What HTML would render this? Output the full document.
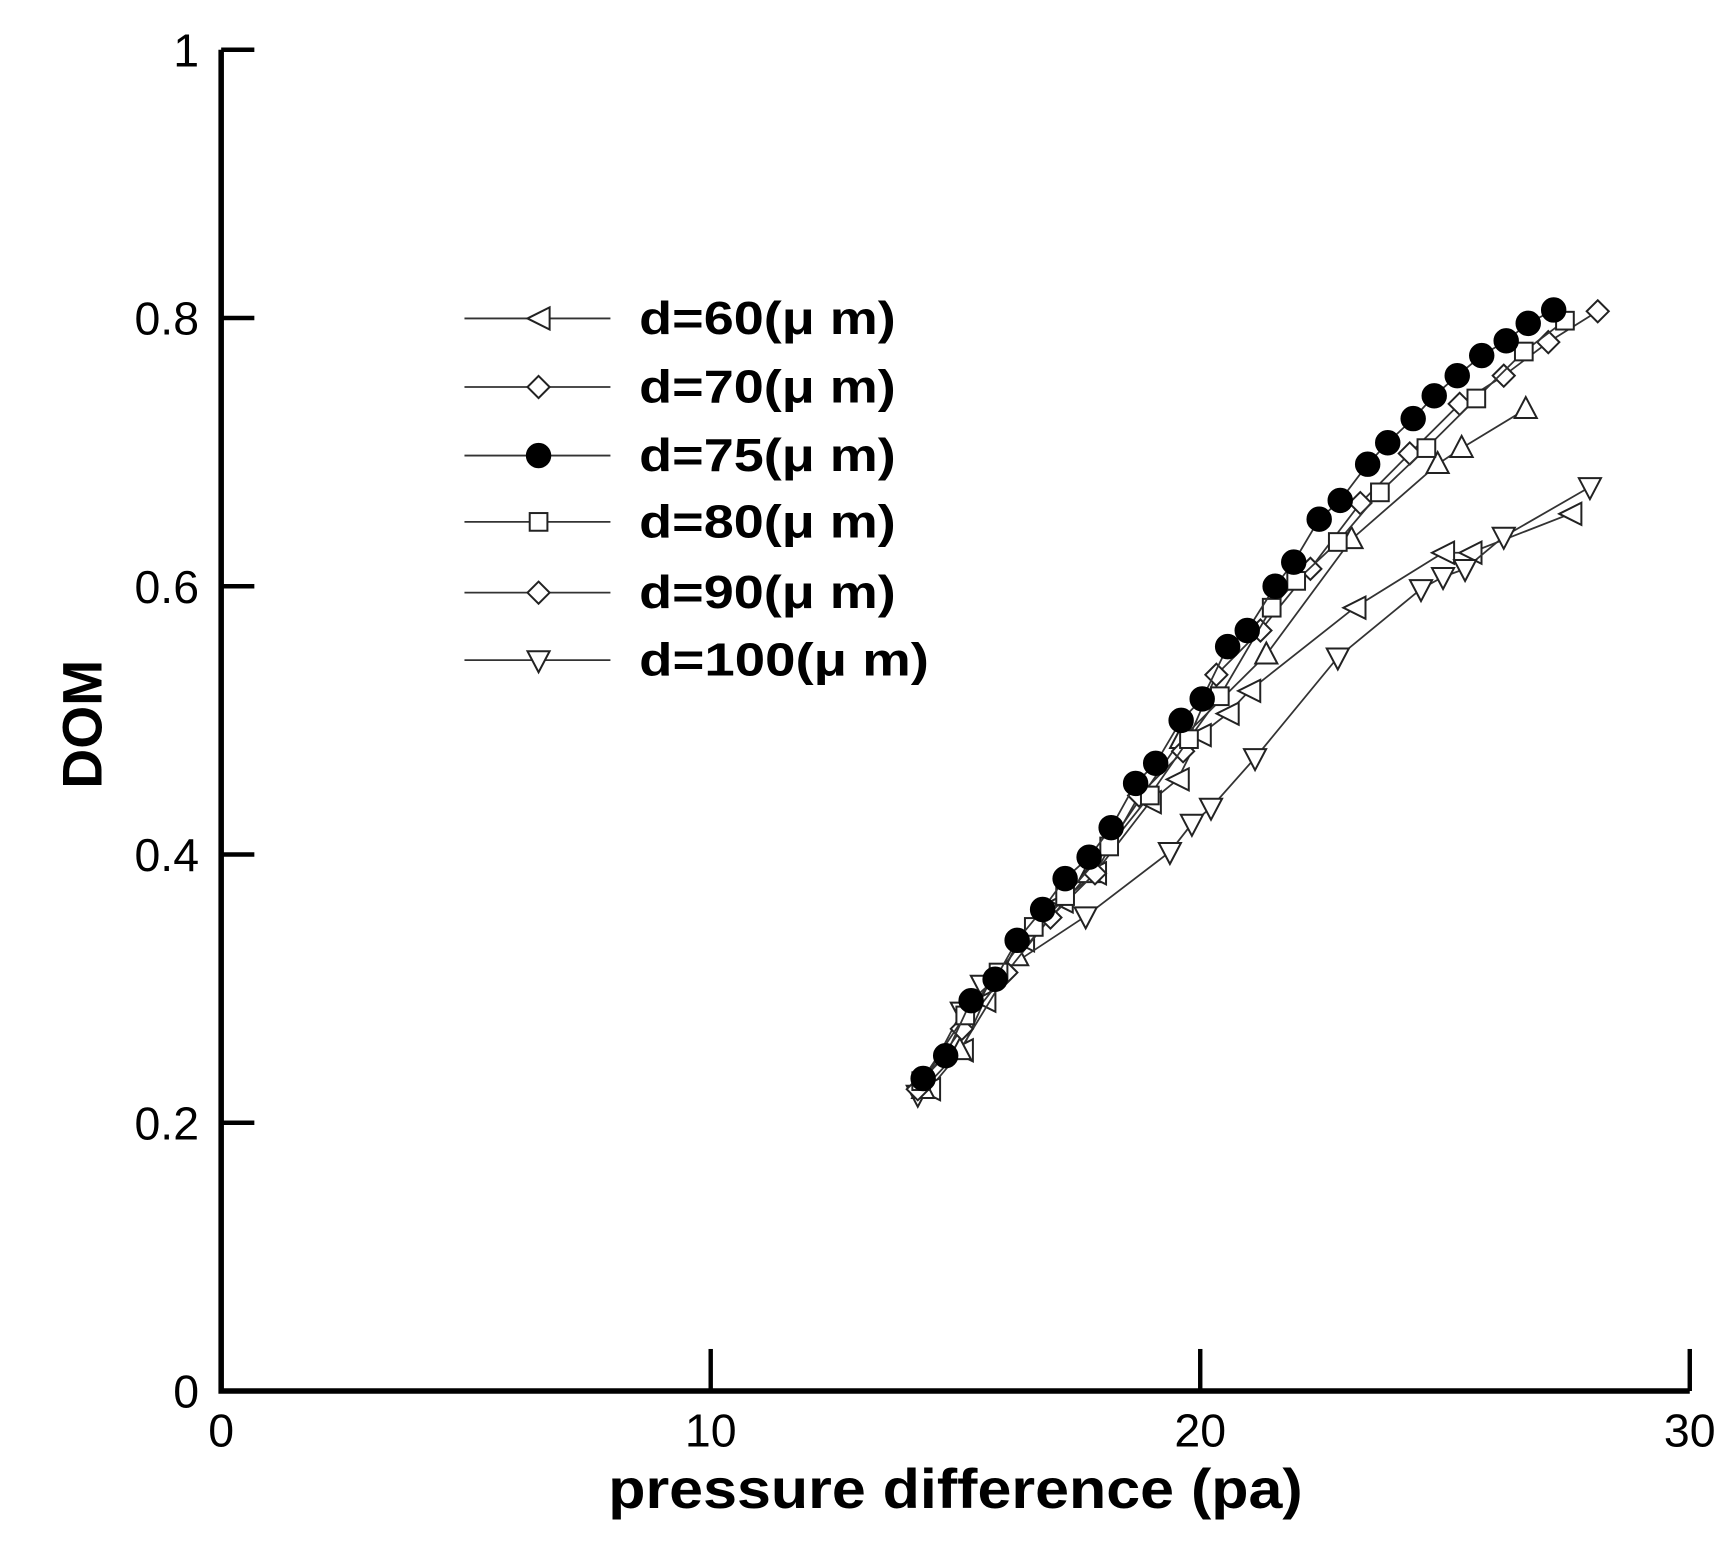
<!DOCTYPE html>
<html><head><meta charset="utf-8"><style>
html,body{margin:0;padding:0;background:#fff;}
svg{display:block;}
text{font-family:"Liberation Sans",sans-serif;fill:#000;}
</style></head><body>
<svg id="chart" width="1734" height="1548" viewBox="0 0 1568 1400" preserveAspectRatio="none" xmlns="http://www.w3.org/2000/svg">
<g id="axes"></g>
<g id="series"></g>
<g id="legend"></g>
</svg>
<script>
const xTicks=[0,10,20,30];
const yTicks=[0,0.2,0.4,0.6,0.8,1];
const yTickLabels=["0","0.2","0.4","0.6","0.8","1"];
const d60x=[14.46,15.13,15.59,16.38,17.17,17.85,18.97,19.54,19.99,20.56,21.0,23.15,24.96,25.52,27.56];
const d60y=[0.225,0.254,0.291,0.336,0.365,0.386,0.439,0.456,0.489,0.505,0.522,0.584,0.625,0.625,0.654];
const d70x=[14.23,15.13,16.04,16.94,17.85,18.75,19.65,20.33,21.23,22.25,23.27,24.28,25.3,26.2,27.11,28.12];
const d70y=[0.225,0.270,0.312,0.353,0.386,0.444,0.477,0.534,0.567,0.613,0.662,0.699,0.736,0.757,0.782,0.805];
const d75x=[14.34,14.80,15.32,15.81,16.26,16.78,17.24,17.73,18.18,18.68,19.09,19.61,20.04,20.56,20.96,21.53,21.91,22.43,22.86,23.42,23.83,24.35,24.78,25.25,25.75,26.25,26.70,27.22];
const d75y=[0.233,0.250,0.291,0.307,0.336,0.359,0.382,0.398,0.420,0.453,0.468,0.500,0.516,0.555,0.567,0.600,0.618,0.650,0.664,0.691,0.707,0.725,0.742,0.757,0.772,0.783,0.796,0.806];
const d80x=[14.3,15.2,15.88,16.6,17.24,18.14,18.97,19.77,20.4,21.46,21.96,22.81,23.67,24.62,25.64,26.61,27.45];
const d80y=[0.231,0.280,0.312,0.346,0.369,0.406,0.444,0.486,0.518,0.584,0.604,0.633,0.670,0.703,0.740,0.775,0.798];
const d90x=[14.34,15.09,16.26,17.73,19.61,21.35,23.09,24.85,25.34,26.65];
const d90y=[0.225,0.254,0.324,0.386,0.486,0.549,0.635,0.691,0.703,0.732];
const d100x=[14.23,15.13,15.54,17.66,19.38,19.83,20.22,21.12,22.81,24.51,24.96,25.41,26.2,27.96];
const d100y=[0.221,0.283,0.303,0.354,0.402,0.423,0.435,0.472,0.547,0.598,0.607,0.613,0.637,0.674];
const legendLabels=["d=60(\u03bc m)","d=70(\u03bc m)","d=75(\u03bc m)","d=80(\u03bc m)","d=90(\u03bc m)","d=100(\u03bc m)"];

const NS="http://www.w3.org/2000/svg";
const X0=200,X1=1528,Y0=1258,Y1=45;
const sx=v=>X0+(v-0)/(30-0)*(X1-X0);
const sy=v=>Y0-(v-0)/(1-0)*(Y0-Y1);
function mk(tag,attrs,parent){const e=document.createElementNS(NS,tag);for(const k in attrs)e.setAttribute(k,attrs[k]);parent.appendChild(e);return e;}
const axes=document.getElementById('axes'),ser=document.getElementById('series'),leg=document.getElementById('legend');

let a=mk('path',{d:`M${X0},${Y1} L${X0},${Y0} L${X1},${Y0}`,fill:'none',stroke:'#000','stroke-width':5},axes);


xTicks.forEach(t=>{
  let l=mk('line',{x1:sx(t),x2:sx(t),y1:Y0,y2:Y0-38,stroke:'#000','stroke-width':4},axes);
  
  
  let tx=mk('text',{x:sx(t),y:Y0+50,'text-anchor':'middle','font-size':42},axes);tx.textContent=t;
  
  
});
yTicks.forEach((t,i)=>{
  let l=mk('line',{x1:X0,x2:X0+30,y1:sy(t),y2:sy(t),stroke:'#000','stroke-width':4},axes);
  
  
  let tx=mk('text',{x:180,y:sy(t)+15,'text-anchor':'end','font-size':42},axes);tx.textContent=yTickLabels[i];
  
  
});
let xt=mk('text',{x:550,y:1364,'font-size':50,'font-weight':'bold',textLength:628,lengthAdjust:'spacingAndGlyphs'},axes);xt.textContent='pressure difference (pa)';


let yt=mk('text',{x:0,y:0,'text-anchor':'middle','font-size':50,'font-weight':'bold',transform:'translate(92,655) rotate(-90)'},axes);yt.textContent='DOM';



function marker(type,x,y,parent){
  const s=10;let e;
  if(type==='circle')e=mk('circle',{cx:x,cy:y,r:11,fill:'#000',stroke:'#000','stroke-width':1},parent);
  else if(type==='square')e=mk('rect',{x:x-8,y:y-8,width:16,height:16,fill:'#fff',stroke:'#222','stroke-width':1.8},parent);
  else if(type==='diamond')e=mk('polygon',{points:`${x},${y-s} ${x+s},${y} ${x},${y+s} ${x-s},${y}`,fill:'#fff',stroke:'#222','stroke-width':1.8},parent);
  else if(type==='left')e=mk('polygon',{points:`${x-s},${y} ${x+s},${y-s} ${x+s},${y+s}`,fill:'#fff',stroke:'#222','stroke-width':1.8},parent);
  else if(type==='up')e=mk('polygon',{points:`${x},${y-s-1} ${x+s},${y+s-2} ${x-s},${y+s-2}`,fill:'#fff',stroke:'#222','stroke-width':1.8},parent);
  else e=mk('polygon',{points:`${x},${y+s+1} ${x+s},${y-s+2} ${x-s},${y-s+2}`,fill:'#fff',stroke:'#222','stroke-width':1.8},parent);
  return e;
}
const seriesList=[
 ['d60',d60x,d60y,'left'],['d100',d100x,d100y,'down'],['d90',d90x,d90y,'up'],
 ['d70',d70x,d70y,'diamond'],['d80',d80x,d80y,'square'],['d75',d75x,d75y,'circle']];
seriesList.forEach(([n,xs,ys,m])=>{
  const g=mk('g',{},ser);
  
  
  const p=mk('polyline',{points:xs.map((v,i)=>sx(v)+','+sy(ys[i])).join(' '),fill:'none',stroke:'#333','stroke-width':1.6},g);
  
  
  xs.forEach((v,i)=>{const e=marker(m,sx(v),sy(ys[i]),g);
    
    });
});
const legMarkers=['left','diamond','circle','square','diamond','down'];
const legY=[288,350,412,472,536,597];
legendLabels.forEach((lab,i)=>{
  const g=mk('g',{},leg);
  
  
  mk('line',{x1:420,x2:552,y1:legY[i],y2:legY[i],stroke:'#333','stroke-width':1.6},g);
  marker(legMarkers[i],487,legY[i],g);
  const t=mk('text',{x:578,y:legY[i]+14,'font-size':42,'font-weight':'bold',textLength:(i===5?262:232),lengthAdjust:'spacingAndGlyphs'},g);t.textContent=lab;
});
</script>
</body></html>
